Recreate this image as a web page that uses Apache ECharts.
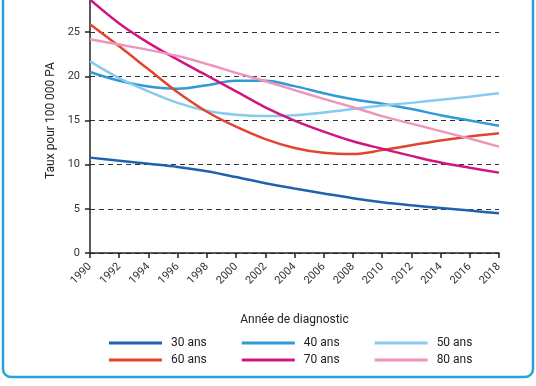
<!DOCTYPE html>
<html><head><meta charset="utf-8">
<script src="https://cdn.jsdelivr.net/npm/echarts@6/dist/echarts.min.js"></script>
<style>html,body{margin:0;padding:0;background:#fff}#c{width:536px;height:386px}</style>
</head><body><div id="c"></div>
<script>
const years = [1990,1992,1994,1996,1998,2000,2002,2004,2006,2008,2010,2012,2014,2016,2018];
const s30 = [10.8,10.45,10.1,9.75,9.25,8.6,7.9,7.3,6.75,6.2,5.75,5.4,5.1,4.8,4.5];
const s40 = [20.5,19.5,18.85,18.6,19.0,19.5,19.5,18.9,18.1,17.4,16.9,16.3,15.6,15.0,14.4];
const s50 = [21.7,19.8,18.3,17.0,16.1,15.65,15.5,15.6,15.9,16.3,16.7,17.0,17.35,17.7,18.1];
const s60 = [25.9,23.4,20.8,18.2,16.0,14.3,12.9,11.9,11.35,11.2,11.65,12.2,12.75,13.2,13.55];
const s70 = [28.7,26.0,23.8,21.9,20.1,18.3,16.5,15.0,13.75,12.65,11.8,11.0,10.25,9.65,9.1];
const s80 = [24.2,23.6,23.0,22.3,21.4,20.4,19.45,18.45,17.45,16.5,15.5,14.65,13.8,12.95,12.05];
const names = ['30 ans','40 ans','50 ans','60 ans','70 ans','80 ans'];
const colors = ['#1f63ad','#2e9ad6','#88cbee','#e2452f','#d0167f','#ee95bd'];
const seriesData = [s30,s40,s50,s60,s70,s80];

const chart = echarts.init(document.getElementById('c'));
const font = 'Roboto, "DejaVu Sans", sans-serif';
const legendCommon = {
  left: 104, itemWidth: 53, itemHeight: 3, icon: 'rect', itemGap: 35,
  textStyle: {fontFamily: font, fontSize: 12, color: '#222', padding: [0,0,0,4]}
};
chart.setOption({
  animation: false,
  backgroundColor: '#fff',
  grid: {left: 90, right: 37, top: 0, bottom: 133},
  legend: [
    Object.assign({top: 332, data: names.slice(0,3)}, legendCommon),
    Object.assign({top: 349, data: names.slice(3)}, legendCommon)
  ],
  xAxis: {
    type: 'value', min: 1990, max: 2018, interval: 2,
    name: 'Année de diagnostic', nameLocation: 'middle', nameGap: 61,
    nameTextStyle: {fontFamily: font, fontSize: 12, color: '#222'},
    axisLine: {lineStyle: {color: '#222', width: 1.5}},
    axisTick: {length: 5, lineStyle: {color: '#222', width: 1.5}},
    axisLabel: {rotate: 45, fontFamily: font, fontSize: 11, color: '#333', margin: 12,
      formatter: v => String(v)},
    splitLine: {show: false}
  },
  yAxis: {
    type: 'value', min: 0, max: 28.65, interval: 5,
    name: 'Taux pour 100 000 PA', nameLocation: 'middle', nameGap: 28,
    nameTextStyle: {fontFamily: font, fontSize: 12, color: '#222', padding: [0,0,0,12]},
    axisLine: {show: true, lineStyle: {color: '#222', width: 1.5}},
    axisTick: {show: true, length: 5, lineStyle: {color: '#222', width: 1.5}},
    axisLabel: {fontFamily: font, fontSize: 11, color: '#333', margin: 10, showMaxLabel: false,
      formatter: v => (v % 5 === 0 ? String(v) : '')},
    splitLine: {show: true, showMaxLine: false, lineStyle: {color: '#333', width: 1.2, type: [5,4]}}
  },
  graphic: [{
    type: 'rect', z: 100, silent: true,
    shape: {x: 3, y: -20, width: 530, height: 397, r: 8},
    style: {fill: 'none', stroke: '#29a3dc', lineWidth: 2.5}
  }],
  series: seriesData.map((d, i) => ({
    type: 'line', name: names[i], smooth: 0.35, showSymbol: false, symbol: 'none',
    color: colors[i], lineStyle: {width: 2.5, color: colors[i]},
    data: years.map((y, j) => [y, d[j]])
  }))
});
</script></body></html>
